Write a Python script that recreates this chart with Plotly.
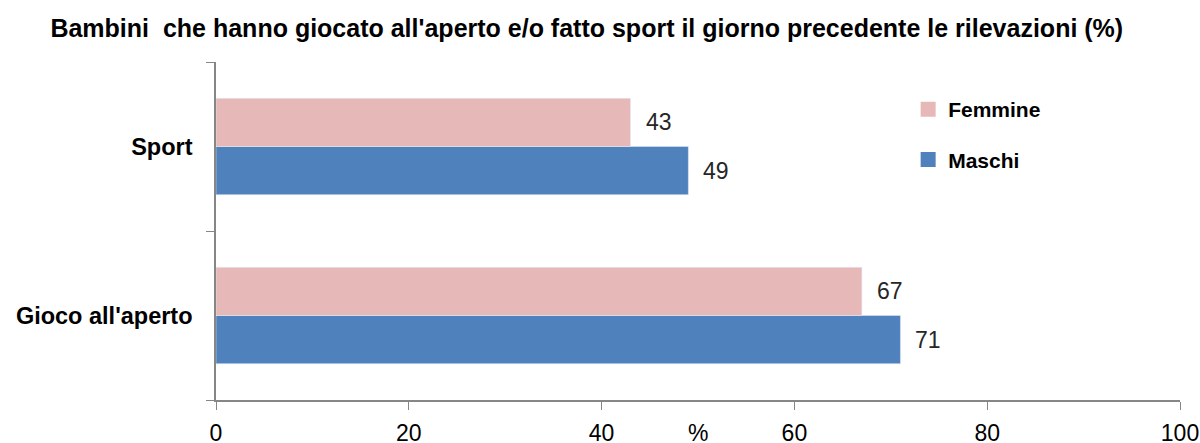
import plotly.graph_objects as go

categories = ["Gioco all'aperto", "Sport"]
maschi = [71, 49]
femmine = [67, 43]
x_ticks = [0, 20, 40, 60, 80, 100]

FONT = "Liberation Sans, Arial, sans-serif"
AXIS = "#868686"
C_M = "#4F81BD"
C_F = "#E6B9B8"

fig = go.Figure()
fig.add_trace(go.Bar(
    y=categories, x=maschi, name="Maschi", orientation="h",
    marker=dict(color=C_M), showlegend=False,
))
fig.add_trace(go.Bar(
    y=categories, x=femmine, name="Femmine", orientation="h",
    marker=dict(color=C_F), showlegend=False,
))
# legend entries with larger square markers
fig.add_trace(go.Scatter(
    x=[None], y=[None], mode="markers", name="<b>Femmine</b>",
    marker=dict(symbol="square", size=15, color=C_F), legendgroup="f", legendrank=1,
))
fig.add_trace(go.Scatter(
    x=[None], y=[None], mode="markers", name="<b>Maschi</b>",
    marker=dict(symbol="square", size=15, color=C_M), legendgroup="m", legendrank=2,
))

# value labels, positioned from the data
for i, cat in enumerate(categories):
    for vals, off in ((maschi, -0.145), (femmine, 0.145)):
        fig.add_annotation(
            x=vals[i], y=i + off, xref="x", yref="y", text=str(vals[i]),
            showarrow=False, xanchor="left", yanchor="middle", xshift=13,
            font=dict(size=23, color="#262626", family=FONT),
        )

fig.update_layout(
    width=1200, height=443,
    margin=dict(l=216, r=20, t=62, b=43),
    paper_bgcolor="white", plot_bgcolor="white",
    barmode="group", bargap=0.43, bargroupgap=0,
    font=dict(family=FONT, color="black"),
    title=dict(
        text="<b>Bambini  che hanno giocato all'aperto e/o fatto sport il giorno precedente le rilevazioni (%)</b>",
        x=0.489, xref="container", xanchor="center", y=0.937, yref="container", yanchor="middle",
        font=dict(size=25, color="black", family=FONT),
    ),
    legend=dict(
        x=0.718, y=0.92, xanchor="left", yanchor="top",
        font=dict(size=21, color="black", family=FONT),
        bgcolor="rgba(0,0,0,0)",
        tracegroupgap=20,
    ),
    showlegend=True,
)
fig.update_xaxes(
    range=[0, 100], tickvals=x_ticks, ticktext=[str(t) for t in x_ticks],
    showgrid=False, zeroline=False, showline=True, linecolor=AXIS, linewidth=1.5,
    ticks="outside", ticklen=8, tickcolor=AXIS, automargin=False,
    tickfont=dict(size=23, color="black", family=FONT), ticklabelstandoff=4,
)
fig.update_yaxes(
    range=[-0.5, 1.5],
    showgrid=False, showline=True, linecolor=AXIS, linewidth=1.5, zeroline=False,
    ticks="outside", ticklen=8, tickcolor=AXIS, tickson="boundaries",
    tickvals=categories, ticktext=["<b>" + c + "</b>" for c in categories],
    tickfont=dict(size=23.5, color="black", family=FONT),
    ticklabelstandoff=17, automargin=False,
)

fig.add_annotation(
    x=50, xref="x", y=-0.098, yref="paper", text="%", showarrow=False,
    font=dict(size=23, color="black", family=FONT), yanchor="middle",
)

fig.write_html(
    "out.html",
    config={"displayModeBar": False},
    post_script="document.body.style.margin='0';document.body.style.padding='0';",
)
